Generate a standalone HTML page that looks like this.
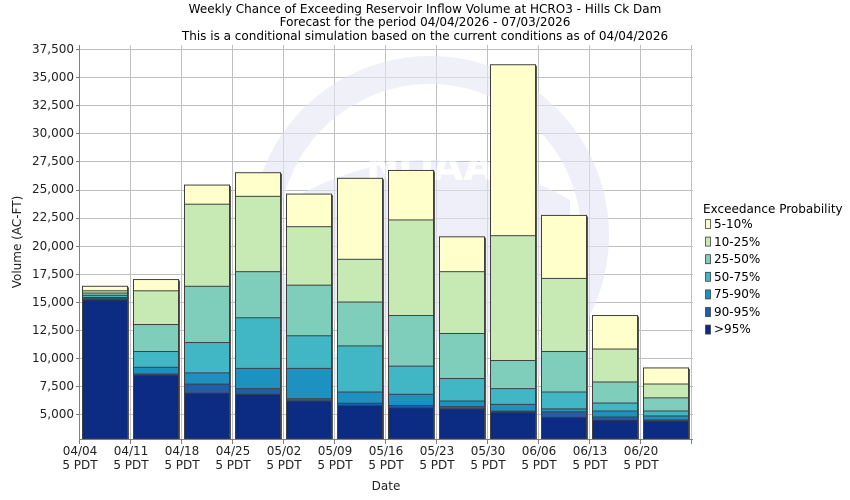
<!DOCTYPE html>
<html><head><meta charset="utf-8"><style>
html,body{margin:0;padding:0;background:#fff;}
svg{display:block;font-family:"DejaVu Sans","Liberation Sans",sans-serif;}
</style></head><body>
<svg id="s" width="850" height="500" xmlns="http://www.w3.org/2000/svg">
<rect width="850" height="500" fill="#fff"/>
<g font-size="12" fill="#000" text-anchor="middle">
<text x="425" y="13">Weekly Chance of Exceeding Reservoir Inflow Volume at HCRO3 - Hills Ck Dam</text>
<text x="425" y="26">Forecast for the period 04/04/2026 - 07/03/2026</text>
<text x="425" y="40">This is a conditional simulation based on the current conditions as of 04/04/2026</text>
</g>
<g id="grid" stroke="#c0c0c0" stroke-width="1"></g>
<g opacity="0.6">
<circle cx="430" cy="235" r="165" fill="none" stroke="#e4e6f4" stroke-width="28"/>
<path d="M290 200 Q430 120 570 200 L570 300 Q430 380 290 300Z" fill="#e4e6f4"/>
<text x="430" y="180" font-size="40" font-weight="bold" fill="#fff" text-anchor="middle">NOAA</text>
</g>
<g id="bars"></g>
<g stroke="#808080" stroke-width="1" fill="none">
<line x1="79.5" y1="45" x2="79.5" y2="439.5"/>
<line x1="79.5" y1="439.5" x2="693" y2="439.5"/>
</g>
<g id="ticks" stroke="#808080"></g>
<g font-size="12" fill="#222" text-anchor="end">
<text x="74" y="53">37,500</text><text x="74" y="81">35,000</text><text x="74" y="109">32,500</text>
<text x="74" y="137">30,000</text><text x="74" y="165">27,500</text><text x="74" y="193">25,000</text>
<text x="74" y="221">22,500</text><text x="74" y="250">20,000</text><text x="74" y="278">17,500</text>
<text x="74" y="306">15,000</text><text x="74" y="334">12,500</text><text x="74" y="362">10,000</text>
<text x="74" y="390">7,500</text><text x="74" y="418">5,000</text>
</g>
<g font-size="12" fill="#222" text-anchor="middle">
<text x="80" y="455">04/04</text><text x="80" y="469">5 PDT</text>
<text x="131" y="455">04/11</text><text x="131" y="469">5 PDT</text>
<text x="182" y="455">04/18</text><text x="182" y="469">5 PDT</text>
<text x="233" y="455">04/25</text><text x="233" y="469">5 PDT</text>
<text x="284" y="455">05/02</text><text x="284" y="469">5 PDT</text>
<text x="335" y="455">05/09</text><text x="335" y="469">5 PDT</text>
<text x="386" y="455">05/16</text><text x="386" y="469">5 PDT</text>
<text x="437" y="455">05/23</text><text x="437" y="469">5 PDT</text>
<text x="488" y="455">05/30</text><text x="488" y="469">5 PDT</text>
<text x="539" y="455">06/06</text><text x="539" y="469">5 PDT</text>
<text x="590" y="455">06/13</text><text x="590" y="469">5 PDT</text>
<text x="641" y="455">06/20</text><text x="641" y="469">5 PDT</text>
<text x="386" y="490">Date</text>
<text transform="translate(21,242) rotate(-90)">Volume (AC-FT)</text>
</g>
<g font-size="12" fill="#000">
<text x="703" y="213">Exceedance Probability</text>
<g id="leg"></g>
<text x="714" y="228">5-10%</text><text x="714" y="246">10-25%</text><text x="714" y="263">25-50%</text>
<text x="714" y="281">50-75%</text><text x="714" y="298">75-90%</text><text x="714" y="316">90-95%</text>
<text x="714" y="333">&gt;95%</text>
</g>
</svg>
<script>
var NS="http://www.w3.org/2000/svg";
function el(p,t,a){var e=document.createElementNS(NS,t);for(var k in a)e.setAttribute(k,a[k]);document.getElementById(p).appendChild(e);return e;}
function Y(v){return 49+(37500-v)*0.011246;}
for(var v=5000;v<=37500;v+=2500){var y=Math.round(Y(v))+0.5;el("grid","line",{x1:80,x2:693,y1:y,y2:y});el("ticks","line",{x1:76,x2:80,y1:y,y2:y});}
for(var i=0;i<13;i++){var x=Math.round(79+i*51)+0.5;el("grid","line",{x1:x,x2:x,y1:45,y2:439});el("ticks","line",{x1:x,x2:x,y1:439,y2:444});}
var cols=["#ffffcc","#c7e9b4","#7fcdbb","#41b6c4","#1d91c0","#225ea8","#0c2c84"];
var d=[[16400,16000,15800,15600,15400,15300,15200],[17000,16000,13000,10600,9200,8600,8500],[25400,23700,16400,11400,8700,7700,6900],[26500,24400,17700,13600,9100,7300,6800],[24600,21700,16500,12000,9100,6400,6200],[26000,18800,15000,11100,7000,6000,5800],[26700,22300,13800,9300,6800,5800,5600],[20800,17700,12200,8200,6200,5700,5500],[36100,20900,9800,7300,5900,5300,5200],[22700,17100,10600,7000,5500,5230,4750],[13800,10820,7890,6020,5310,4780,4500],[9140,7710,6480,5310,4870,4510,4420]];
var B=439;
d.forEach(function(r,i){var x=Math.round(79+i*51)+3;
 r.forEach(function(v,j){var y=Y(v);el("bars","rect",{x:x+0.5,y:y,width:45,height:B-y,fill:cols[j],stroke:"#404040","stroke-width":1});});
 el("bars","rect",{x:x+46,y:Y(r[0])+1,width:1,height:B-Y(r[0])-1,fill:"#555"});
});
cols.forEach(function(c,j){el("leg","rect",{x:705.5,y:219.5+j*17.6,width:5,height:9,fill:c,stroke:"#404040","stroke-width":0.8});});
</script>
</body></html>
